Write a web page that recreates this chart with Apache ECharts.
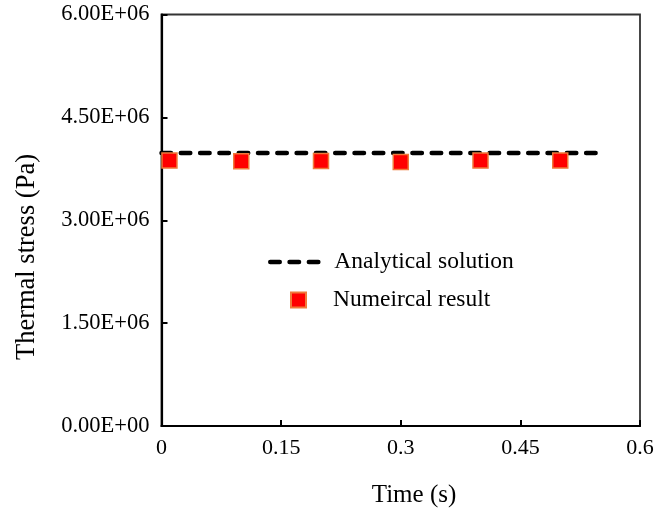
<!DOCTYPE html>
<html>
<head>
<meta charset="utf-8">
<script src="https://cdn.jsdelivr.net/npm/echarts@6/dist/echarts.min.js"></script>
<style>
  html, body { margin: 0; padding: 0; background: #fff; }
  #chart { width: 658px; height: 514px; }
</style>
</head>
<body>
<div id="chart"></div>
<script>
// Analytical thermal stress (constant) over time
const analyticalTime = [0, 0.55];
const analyticalStress = [3.98e6, 3.98e6];

// Numerical results at sampled times
const numericalTime = [0.01, 0.1, 0.2, 0.3, 0.4, 0.5];
const numericalStress = [3.87e6, 3.86e6, 3.865e6, 3.85e6, 3.87e6, 3.87e6];

// Axis ranges and tick steps
const xRange = [0, 0.6];
const xStep = 0.15;
const yRange = [0, 6e6];
const yStep = 1.5e6;

const FONT = '"Liberation Serif", "Times New Roman", serif';
const DASH = [9.5, 9.8];

// 6000000 -> "6.00E+06"
function sci(v) {
  if (v === 0) return '0.00E+00';
  const exp = Math.floor(Math.log10(Math.abs(v)));
  const mant = v / Math.pow(10, exp);
  const sign = exp < 0 ? '-' : '+';
  const e = String(Math.abs(exp)).padStart(2, '0');
  return mant.toFixed(2) + 'E' + sign + e;
}

const chart = echarts.init(document.getElementById('chart'), null, { renderer: 'canvas' });

chart.setOption({
  animation: false,
  backgroundColor: '#ffffff',
  grid: {
    left: 161.5, right: 18, top: 14.5, bottom: 88,
    show: true, borderColor: '#333', borderWidth: 1.8, backgroundColor: 'transparent'
  },
  xAxis: {
    type: 'value',
    min: xRange[0], max: xRange[1], interval: xStep,
    axisLine: { show: true, onZero: false, lineStyle: { color: '#000', width: 2.2 } },
    axisTick: { show: true, inside: true, length: 6, lineStyle: { color: '#000', width: 2 } },
    splitLine: { show: false },
    axisLabel: {
      margin: 11, color: '#000', fontFamily: FONT, fontSize: 22,
      formatter: v => String(Math.round(v * 100) / 100)
    }
  },
  yAxis: {
    type: 'value',
    min: yRange[0], max: yRange[1], interval: yStep,
    axisLine: { show: true, onZero: false, lineStyle: { color: '#000', width: 2.2 } },
    axisTick: { show: true, inside: true, length: 6, lineStyle: { color: '#000', width: 2 } },
    splitLine: { show: false },
    axisLabel: {
      margin: 12, color: '#000', fontFamily: FONT, fontSize: 22.5,
      formatter: sci
    }
  },
  legend: [
    {
      orient: 'vertical',
      left: 268, top: 250, padding: 0,
      itemWidth: 54, itemHeight: 15,
      textStyle: { color: '#000', fontFamily: FONT, fontSize: 23.5, padding: [0, 0, 0, 5] },
      data: [{
        name: 'Analytical solution',
        itemStyle: { opacity: 0 },
        lineStyle: { color: '#000', width: 4.5, type: DASH, cap: 'round' }
      }]
    },
    {
      orient: 'vertical',
      left: 290, top: 288, padding: 0,
      itemWidth: 15, itemHeight: 15,
      textStyle: { color: '#000', fontFamily: FONT, fontSize: 23.5, padding: [0, 0, 0, 22] },
      data: ['Numeircal result']
    }
  ],
  graphic: [
    {
      type: 'text',
      x: 27, y: 257, rotation: Math.PI / 2,
      style: {
        text: 'Thermal stress (Pa)', fill: '#000',
        font: '26.5px ' + FONT, align: 'center', verticalAlign: 'middle'
      }
    },
    {
      type: 'text',
      x: 414, y: 495,
      style: {
        text: 'Time (s)', fill: '#000',
        font: '25px ' + FONT, align: 'center', verticalAlign: 'middle'
      }
    }
  ],
  series: [
    {
      name: 'Analytical solution',
      type: 'line',
      data: analyticalTime.map((t, i) => [t, analyticalStress[i]]),
      symbol: 'none',
      lineStyle: { color: '#000', width: 4.5, type: DASH, cap: 'round' },
      itemStyle: { color: '#000' },
      z: 2
    },
    {
      name: 'Numeircal result',
      type: 'scatter',
      data: numericalTime.map((t, i) => [t, numericalStress[i]]),
      symbol: 'rect',
      symbolSize: 15,
      itemStyle: { color: '#ff0000', borderColor: '#f07a3a', borderWidth: 1.5, opacity: 1 },
      z: 3
    }
  ]
});
</script>
</body>
</html>
